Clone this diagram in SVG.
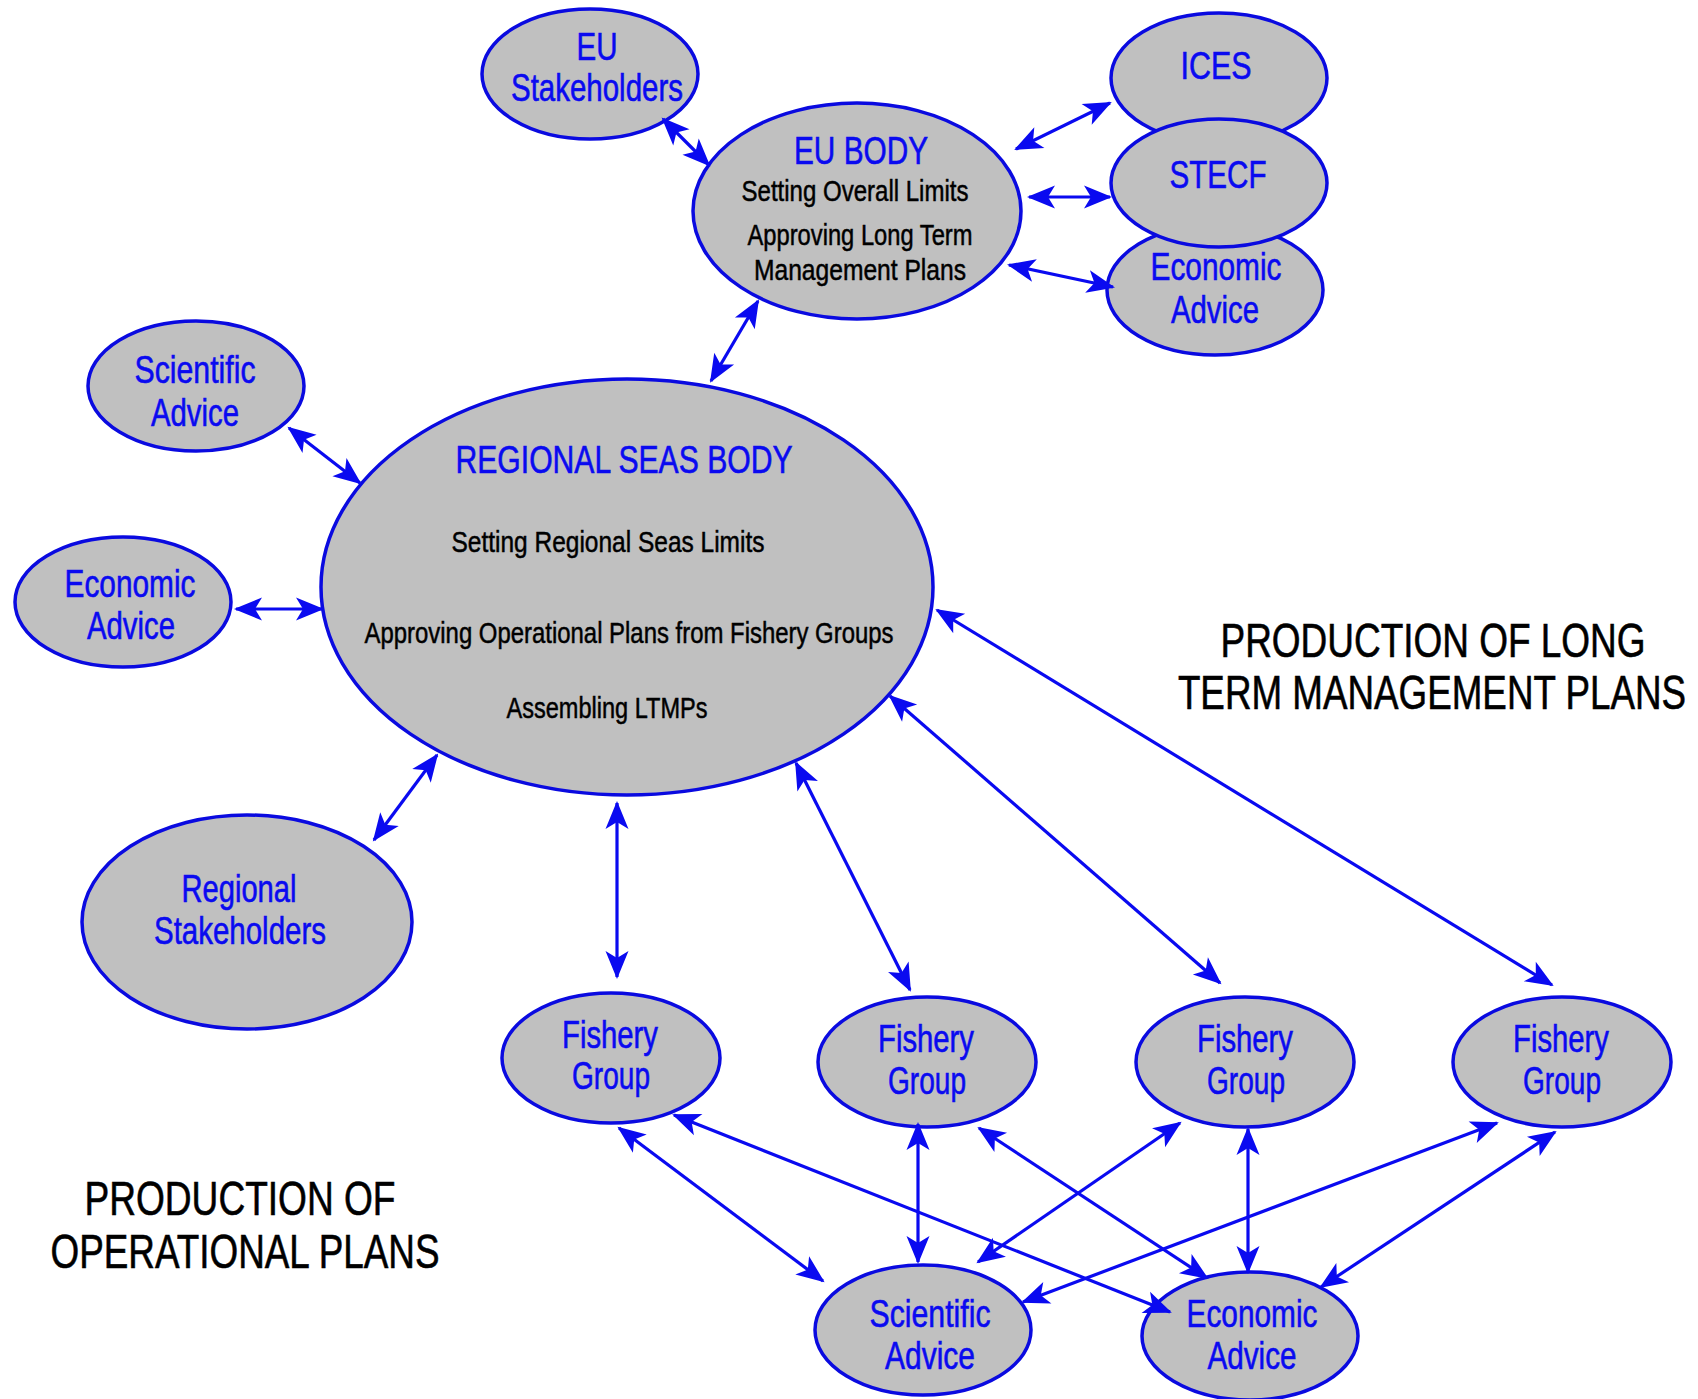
<svg xmlns="http://www.w3.org/2000/svg" width="1698" height="1399" viewBox="0 0 1698 1399">
<style>
.n{fill:#c0c0c0;stroke:#0a0ae0;stroke-width:3.5}
.b{fill:#0a0af0;stroke:#0a0af0;stroke-width:0.6;font-family:"Liberation Sans Narrow","Liberation Sans",Arial,sans-serif;font-size:38px;text-anchor:middle}
.k{fill:#000;stroke:#000;stroke-width:0.5;font-family:"Liberation Sans Narrow","Liberation Sans",Arial,sans-serif;font-size:29px;text-anchor:middle}
.h{fill:#000;stroke:#000;stroke-width:0.6;font-family:"Liberation Sans Narrow","Liberation Sans",Arial,sans-serif;font-size:48px;text-anchor:middle}
.c line{stroke:#0a0af0;stroke-width:3.2;marker-start:url(#ah);marker-end:url(#ah)}
</style>
<defs>
<marker id="ah" viewBox="-28 -12 32 24" refX="0" refY="0" markerWidth="32" markerHeight="24" markerUnits="userSpaceOnUse" orient="auto-start-reverse">
<path d="M2,0 L-26,-11.5 L-19,0 L-26,11.5 Z" fill="#0a0af0"/>
</marker>
</defs>
<rect width="1698" height="1399" fill="#fff"/>

<g id="eu-stakeholders"><ellipse class="n" cx="590" cy="74" rx="108" ry="65"/>
<text class="b" x="597" y="60" textLength="41" lengthAdjust="spacingAndGlyphs">EU</text>
<text class="b" x="597" y="101" textLength="172" lengthAdjust="spacingAndGlyphs">Stakeholders</text></g>

<g id="eu-body"><ellipse class="n" cx="857" cy="211" rx="164" ry="108"/>
<text class="b" x="861" y="164" font-size="36" textLength="134" lengthAdjust="spacingAndGlyphs">EU BODY</text>
<text class="k" x="855" y="201" textLength="227" lengthAdjust="spacingAndGlyphs">Setting Overall Limits</text>
<text class="k" x="860" y="245" textLength="225" lengthAdjust="spacingAndGlyphs">Approving Long Term</text>
<text class="k" x="860" y="280" textLength="212" lengthAdjust="spacingAndGlyphs">Management Plans</text></g>

<g id="ices"><ellipse class="n" cx="1219" cy="78" rx="108" ry="65"/>
<text class="b" x="1216" y="79" textLength="71" lengthAdjust="spacingAndGlyphs">ICES</text></g>

<g id="economic-advice-eu"><ellipse class="n" cx="1215" cy="290" rx="108" ry="65"/>
<text class="b" x="1216" y="280" textLength="131" lengthAdjust="spacingAndGlyphs">Economic</text>
<text class="b" x="1215" y="323" textLength="88" lengthAdjust="spacingAndGlyphs">Advice</text></g>

<g id="stecf"><ellipse class="n" cx="1219" cy="183" rx="108" ry="64"/>
<text class="b" x="1218" y="188" textLength="97" lengthAdjust="spacingAndGlyphs">STECF</text></g>

<g id="scientific-advice-left"><ellipse class="n" cx="196" cy="386" rx="108" ry="65"/>
<text class="b" x="195" y="383" textLength="121" lengthAdjust="spacingAndGlyphs">Scientific</text>
<text class="b" x="195" y="426" textLength="88" lengthAdjust="spacingAndGlyphs">Advice</text></g>

<g id="economic-advice-left"><ellipse class="n" cx="123" cy="602" rx="108" ry="65"/>
<text class="b" x="130" y="597" textLength="131" lengthAdjust="spacingAndGlyphs">Economic</text>
<text class="b" x="131" y="639" textLength="88" lengthAdjust="spacingAndGlyphs">Advice</text></g>

<g id="regional-stakeholders"><ellipse class="n" cx="247" cy="922" rx="165" ry="107"/>
<text class="b" x="239" y="902" textLength="115" lengthAdjust="spacingAndGlyphs">Regional</text>
<text class="b" x="240" y="944" textLength="172" lengthAdjust="spacingAndGlyphs">Stakeholders</text></g>

<g id="regional-seas-body"><ellipse class="n" cx="627" cy="587" rx="306" ry="208"/>
<text class="b" x="624" y="473" font-size="39" textLength="337" lengthAdjust="spacingAndGlyphs">REGIONAL SEAS BODY</text>
<text class="k" x="608" y="552" font-size="30" textLength="313" lengthAdjust="spacingAndGlyphs">Setting Regional Seas Limits</text>
<text class="k" x="629" y="643" font-size="30" textLength="529" lengthAdjust="spacingAndGlyphs">Approving Operational Plans from Fishery Groups</text>
<text class="k" x="607" y="718" font-size="25" textLength="201" lengthAdjust="spacingAndGlyphs">Assembling LTMPs</text></g>

<g id="fishery-group-1"><ellipse class="n" cx="611" cy="1058" rx="109" ry="65"/>
<text class="b" x="610" y="1048" textLength="96" lengthAdjust="spacingAndGlyphs">Fishery</text>
<text class="b" x="611" y="1089" textLength="78" lengthAdjust="spacingAndGlyphs">Group</text></g>

<g id="fishery-group-2"><ellipse class="n" cx="927" cy="1062" rx="109" ry="65"/>
<text class="b" x="926" y="1052" textLength="96" lengthAdjust="spacingAndGlyphs">Fishery</text>
<text class="b" x="927" y="1094" textLength="78" lengthAdjust="spacingAndGlyphs">Group</text></g>

<g id="fishery-group-3"><ellipse class="n" cx="1245" cy="1062" rx="109" ry="65"/>
<text class="b" x="1245" y="1052" textLength="96" lengthAdjust="spacingAndGlyphs">Fishery</text>
<text class="b" x="1246" y="1094" textLength="78" lengthAdjust="spacingAndGlyphs">Group</text></g>

<g id="fishery-group-4"><ellipse class="n" cx="1562" cy="1062" rx="109" ry="65"/>
<text class="b" x="1561" y="1052" textLength="96" lengthAdjust="spacingAndGlyphs">Fishery</text>
<text class="b" x="1562" y="1094" textLength="78" lengthAdjust="spacingAndGlyphs">Group</text></g>

<g id="scientific-advice-bottom"><ellipse class="n" cx="923" cy="1330" rx="108" ry="65"/>
<text class="b" x="930" y="1327" textLength="121" lengthAdjust="spacingAndGlyphs">Scientific</text>
<text class="b" x="930" y="1369" textLength="90" lengthAdjust="spacingAndGlyphs">Advice</text></g>

<g id="economic-advice-bottom"><ellipse class="n" cx="1250" cy="1336" rx="108" ry="64"/>
<text class="b" x="1252" y="1327" textLength="131" lengthAdjust="spacingAndGlyphs">Economic</text>
<text class="b" x="1252" y="1369" textLength="89" lengthAdjust="spacingAndGlyphs">Advice</text></g>

<g id="connectors" class="c">
<line x1="663" y1="119" x2="709" y2="165"/>
<line x1="1016" y1="149" x2="1110" y2="103"/>
<line x1="1029" y1="197" x2="1110" y2="197"/>
<line x1="1009" y1="265" x2="1113" y2="287"/>
<line x1="758" y1="301" x2="711" y2="381"/>
<line x1="289" y1="428" x2="360" y2="483"/>
<line x1="236" y1="609" x2="322" y2="609"/>
<line x1="374" y1="840" x2="437" y2="755"/>
<line x1="617" y1="803" x2="617" y2="977"/>
<line x1="796" y1="763" x2="910" y2="990"/>
<line x1="890" y1="696" x2="1220" y2="983"/>
<line x1="937" y1="610" x2="1552" y2="985"/>
<line x1="619" y1="1128" x2="823" y2="1281"/>
<line x1="674" y1="1115" x2="1170" y2="1312"/>
<line x1="918" y1="1124" x2="918" y2="1262"/>
<line x1="979" y1="1128" x2="1207" y2="1278"/>
<line x1="1180" y1="1123" x2="978" y2="1262"/>
<line x1="1248" y1="1129" x2="1248" y2="1272"/>
<line x1="1497" y1="1123" x2="1023" y2="1302"/>
<line x1="1555" y1="1132" x2="1321" y2="1287"/>
</g>

<g id="labels">
<text class="h" transform="translate(1433,657) scale(0.77,1)" x="0" y="0" textLength="552" lengthAdjust="spacingAndGlyphs">PRODUCTION OF LONG</text>
<text class="h" transform="translate(1432,709) scale(0.77,1)" x="0" y="0" textLength="660" lengthAdjust="spacingAndGlyphs">TERM MANAGEMENT PLANS</text>
<text class="h" x="240" y="1215" textLength="311" lengthAdjust="spacingAndGlyphs">PRODUCTION OF</text>
<text class="h" x="245" y="1268" textLength="389" lengthAdjust="spacingAndGlyphs">OPERATIONAL PLANS</text>
</g>
</svg>
